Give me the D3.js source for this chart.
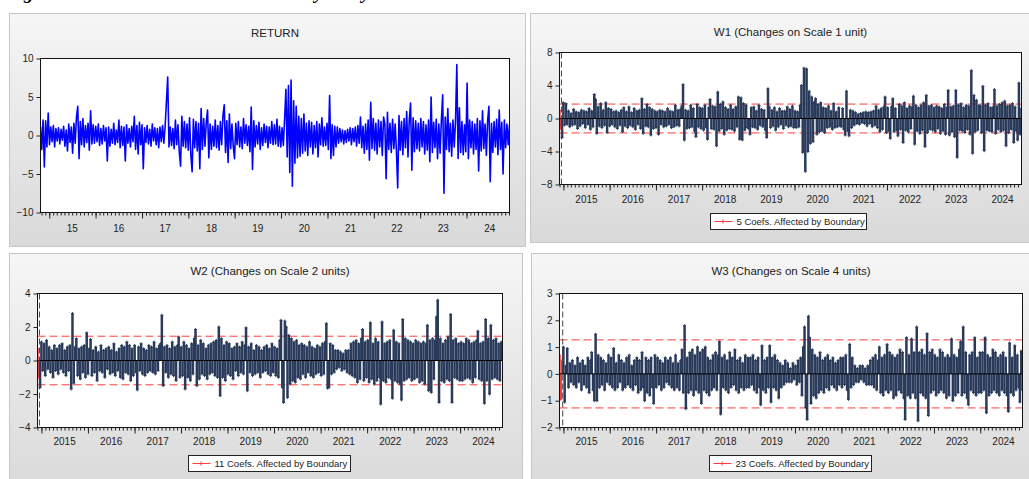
<!DOCTYPE html>
<html>
<head>
<meta charset="utf-8">
<script src="https://cdn.jsdelivr.net/npm/d3@7"></script>
<style>
body { margin: 0; background: #fff; }
svg { display: block; font-family: "Liberation Sans", Arial, sans-serif; }
</style>
</head>
<body>
<div id="chart"></div>
<script>
// Zeitachsen der Reihen (Start / Ende)
var returnStart = "2014-10-24", returnEnd = "2024-12-05";
var waveStart = "2014-12-01", waveEnd = "2024-11-29";

// Achsenbeschriftungen
var yearsShort = ["15", "16", "17", "18", "19", "20", "21", "22", "23", "24"];
var yearsLong = ["2015", "2016", "2017", "2018", "2019", "2020", "2021", "2022", "2023", "2024"];
var returnTicks = [-10, -5, 0, 5, 10];
var w1Ticks = [-8, -4, 0, 4, 8];
var w2Ticks = [-4, -2, 0, 2, 4];
var w3Ticks = [-2, -1, 0, 1, 2, 3];

// Schwellen (rote gestrichelte Linien) und Randkoeffizienten
var w1Band = [-1.75, 1.75];
var w2Band = [-1.45, 1.45];
var w3Band = [-1.27, 1.27];
var boundaryCount = [2, 2, 3];
var legendTexts = ["5 Coefs. Affected by Boundary", "11 Coefs. Affected by Boundary", "23 Coefs. Affected by Boundary"];

// RETURN, ca. 3 Werte pro Monat
var returnSeries = [
  1.2, -1.8, 2.0, -4.1, 1.9, -1.5,
  // 2015
  2.9, -1.2, 1.1, -0.8, 1.3, -1.5, 0.9, -0.7, 1.0, -1.1, 0.8, -0.6, 1.2, -1.4, 0.7, -2.0, 1.5, -0.9, 1.1, -2.3, 1.6, -1.0, 2.4, 3.8, -3.0, 1.8, -1.2, 2.2, -1.5, 1.3, -0.9, 1.6, -1.9, 3.2, -1.1, 1.4,
  // 2016
  -1.0, 1.2, -0.8, 1.5, -1.3, 0.9, -1.1, 1.3, -0.7, 1.0, -3.3, 1.1, -1.4, 0.8, -1.0, 1.6, -1.2, 0.7, -0.9, 2.0, -1.6, 1.2, -1.3, 1.1, -3.3, 1.4, -1.0, 0.9, -1.5, 1.2, -0.8, 2.5, -1.8, 1.3, -2.4, 1.7,
  // 2017
  -1.2, 1.4, -4.3, 1.0, -0.9, 1.3, -1.1, 0.8, -1.4, 1.5, -0.7, 1.0, -1.2, 0.9, -1.6, 1.1, -0.8, 1.3, -1.0, 1.2, 4.4, 7.6, -1.5, 1.1, -1.3, 0.9, -1.7, 2.0, -1.2, 1.4, -2.1, -4.0, 2.5, -1.4, 1.8, -1.6,
  // 2018
  1.5, -1.9, 2.3, -2.5, -4.7, 2.1, -1.6, 1.8, -2.0, 1.6, -4.3, 3.5, -1.8, 2.2, -1.4, 1.7, 3.3, -2.9, 1.5, -1.8, 1.2, -1.4, 2.0, -1.6, 1.3, -1.9, 1.8, -1.2, 2.6, 4.0, -2.2, 1.9, -3.5, 2.8, -1.7, 1.5,
  // 2019
  -1.4, -3.0, 1.6, -1.2, 1.8, -1.5, 1.1, -1.7, 2.2, -1.0, 1.4, -1.3, 1.2, -2.1, 3.7, -4.4, 1.9, -1.5, 1.3, -1.1, 1.7, -1.8, 1.0, -1.3, 1.5, -0.9, 1.2, -1.6, 1.1, -1.0, 1.8, -1.2, 1.4, -1.1, 2.1, -1.4,
  // 2020
  1.2, -1.5, 1.0, -1.3, 2.2, 6.0, -2.8, 6.5, -4.8, 7.2, -6.6, 4.5, -3.6, 3.8, -2.9, 2.5, -2.7, 2.2, -2.3, 2.8, -2.0, 1.6, -2.6, 1.9, -1.5, 1.7, -2.4, 1.3, -1.6, 1.8, -2.8, 1.5, -1.2, 2.3, -1.4, 1.1,
  // 2021
  -1.3, 1.6, -1.8, 5.2, -3.0, 1.4, -2.6, 1.2, -1.5, 1.1, -1.0, 0.9, -0.8, 0.7, -1.1, 0.6, -0.9, 0.8, -0.7, 1.0, -1.2, 0.9, -0.8, 1.1, -1.4, 1.3, -1.0, 2.4, -1.6, 1.2, -2.3, 1.5, -1.8, 2.0, -3.2, 4.3,
  // 2022
  -1.7, 2.2, -1.9, 1.6, -2.4, 2.0, -1.5, 1.8, -2.6, 2.4, 1.5, -5.6, 3.0, -1.8, 1.6, -2.2, 2.1, -1.7, 1.5, -2.0, -6.8, 2.6, -1.9, 1.8, -2.5, 2.2, -1.6, 3.1, -2.8, 2.0, 4.2, -4.5, 2.3, -2.1, 1.9, -1.7,
  // 2023
  1.6, -2.0, 2.2, -1.5, 1.8, -2.4, 1.4, -1.9, 2.0, -3.4, 5.0, -2.2, 1.7, -1.6, 2.1, -3.0, 1.5, -2.3, 2.0, 5.3, -7.5, 2.4, -1.8, 3.5, -2.1, 1.6, -2.7, 2.0, -1.5, 1.9, 9.2, -3.0, 3.6, -2.2, 1.8, -2.5,
  // 2024
  1.4, -2.1, 6.8, -3.0, 2.0, -1.6, 1.8, -2.4, 1.5, -1.8, 2.2, -4.6, 1.9, -2.0, 3.2, -1.7, 1.5, -2.6, 2.0, 3.8, -6.0, 1.6, -2.2, 1.8, -1.5, 2.1, -2.5, 3.3, -1.8, 1.7, -5.0, 2.0, -1.6, 1.5, -1.2, 1.4
];

// W1 (Skala 1)
var w1 = [
  1.0, -1.2, -2.3,
  1.9, -0.8, 1.8, -0.7, 0.9, -1.0, 0.6, -0.8, 1.1, -0.7, 0.8, -1.2, 0.7, -0.9, 1.0, -0.6, 0.9, -1.1, 0.8, -0.7, 1.2, -1.3, 0.9, -1.0, 2.9, 2.3, -1.8, 1.4, -0.9, 1.8, -1.1, 1.0, -0.8, 1.9, -1.7, 1.2,
  -0.9, 1.1, -0.7, 0.8, -1.0, 0.9, -1.2, 0.7, -0.8, 1.0, -1.6, 1.3, -0.9, 0.8, -1.1, 1.4, -0.8, 0.7, -1.0, 1.2, -1.3, 0.9, -0.7, 1.0, -1.2, 2.4, -1.8, 1.1, -0.9, 1.7, -1.0, 1.3, -2.0, 1.1, -1.2, 0.9,
  -1.1, 0.8, -1.9, 1.0, -0.7, 0.9, -1.0, 0.8, -0.9, 1.2, -0.7, 0.9, -1.1, 0.8, -1.0, 1.6, -0.8, 1.0, -0.9, 1.1, 1.5, 4.1, -2.6, 1.0, -1.2, 0.9, -1.1, 1.6, -1.0, 1.2, -1.5, -2.2, 1.7, -1.0, 1.3, -1.2,
  1.2, -1.4, 1.6, -1.1, -2.5, 1.3, 2.3, -1.2, 1.5, -1.3, 1.4, -3.3, 3.2, -1.5, 1.7, -1.2, 2.0, -1.9, 1.3, -1.4, 1.1, -1.2, 1.6, -1.3, 1.1, -1.5, 1.4, -1.0, 2.6, -2.5, 2.5, -2.6, 1.8, -1.4, 1.6, -1.1,
  -1.2, -1.9, 1.3, -1.0, 1.4, -1.1, 0.9, -1.3, 1.6, -0.8, 1.1, -1.0, 1.0, -1.4, -2.3, 3.6, 1.4, -1.1, 1.0, -0.9, 1.3, -1.4, 0.8, -1.0, 1.2, -0.7, 0.9, -1.2, 0.9, -0.8, 1.4, -1.0, 1.1, -0.9, 1.5, -1.1,
  0.9, -1.1, 0.8, -1.0, 1.6, 4.0, -4.1, 6.1, -6.4, 6.0, -4.0, 3.3, -3.0, 2.6, -2.8, 2.0, 2.4, -1.9, 1.7, -1.6, 1.9, -1.5, 1.3, -1.7, 1.2, -1.1, 1.5, -1.0, 0.9, -1.3, 1.8, -1.1, 0.8, -1.0, 1.3, -0.9,
  -1.0, 1.2, -1.3, -2.0, 3.3, -1.5, -2.1, 1.0, -1.1, 0.9, -0.8, 0.7, -0.6, 0.5, -0.7, 0.6, -0.5, 0.7, -0.6, 0.8, -0.9, 0.7, -0.6, 0.8, -1.0, 0.9, -0.8, 1.5, -1.1, 1.0, -1.6, 1.2, -1.3, 1.4, 2.6, -1.7,
  1.3, -1.5, -2.4, 1.4, 2.4, -1.6, 1.2, -1.4, -2.1, 1.7, -1.3, 1.5, -2.9, 1.9, -1.4, 1.2, -1.6, 1.5, -1.2, 1.4, 2.7, -3.1, 1.6, -1.5, 1.3, -1.8, 1.6, -1.4, 1.9, -3.4, 2.8, -1.7, 1.5, -1.3, 1.6, -1.4,
  1.3, -1.6, 1.5, -1.2, 1.4, -1.8, 1.2, -1.5, 1.7, -1.9, 1.3, 3.4, -2.0, 1.4, -1.6, 1.5, -2.2, 3.4, -4.7, 1.6, -1.4, 1.8, -1.5, 1.3, -1.7, 1.6, -1.3, 1.5, -1.9, 5.8, -4.2, 2.8, -1.6, 2.2, -1.4, 1.6,
  1.5, -1.7, 3.9, -3.9, 1.6, -1.4, 1.8, -1.5, 1.3, -1.6, 1.4, 3.5, -1.8, 1.5, -1.3, 1.7, -1.6, 1.9, -1.4, 2.1, -3.3, 1.5, -1.7, 1.6, -1.3, 1.8, -2.9, 1.4, -1.5, -2.6, 4.3, -1.9, 1.2
];

// W2 (Skala 2)
var w2 = [
  0.7, -1.0, -1.6,
  1.1, -0.6, 1.0, -0.9, 1.2, -0.5, 0.8, -0.7, 0.6, -1.0, 0.9, -0.6, 0.7, -0.8, 0.9, -0.5, 1.0, -0.7, 0.6, -0.9, 0.8, -0.6, 0.9, -1.7, 2.8, -1.35, 0.8, 1.3, -0.9, 0.7, -1.1, 0.8, -0.7, 0.9, -1.0, 1.65,
  -0.8, 0.7, 1.25, -0.9, 0.6, -0.7, 0.8, -1.2, 0.5, -0.6, 0.9, -0.7, 0.6, -1.0, 0.7, -0.5, 0.8, -0.8, 0.6, -0.7, 1.0, -0.9, 0.5, -0.6, 0.7, -1.0, 0.9, -1.1, 0.8, -0.7, 1.1, -0.8, 0.9, -1.2, 0.7, -0.9,
  0.9, -0.7, -1.75, 0.8, -0.6, 1.0, -0.8, 0.7, -0.9, 0.6, -0.7, 0.9, -0.6, 0.8, -0.7, 1.1, -0.8, 0.7, -0.6, 0.9, 1.0, 2.7, -1.5, 0.8, -0.7, 0.9, -1.0, 0.7, -0.8, 1.1, -0.9, 0.8, -1.2, 0.9, 1.4, -1.0,
  0.8, -0.9, 1.1, -1.7, 0.9, -1.0, 0.7, -1.2, 1.0, -0.8, 1.3, 1.85, -1.5, 0.9, -1.1, 1.2, -0.8, 1.0, -0.9, 0.7, -1.1, 0.9, -0.8, 1.0, -0.7, 1.1, -0.9, 1.2, -1.0, 2.0, -2.1, 1.3, -1.0, 0.9, -1.2, 1.1,
  -0.8, 1.0, -0.9, 0.7, -1.1, 0.8, -0.6, 1.0, -0.9, 0.8, -0.7, 1.1, -0.8, 0.9, 1.95, -1.8, 0.8, -0.7, 1.0, -0.9, 0.6, -0.8, 0.9, -0.7, 0.8, -1.0, 0.6, -0.7, 0.8, -0.6, 0.9, -0.8, 0.7, -0.9, 1.0, -0.7,
  0.8, -0.9, 0.7, -1.0, 1.2, 2.4, -1.6, -2.5, 2.35, 2.0, -2.2, 1.5, -1.4, 1.3, -1.2, 1.1, -1.3, 1.2, -1.0, 0.9, -1.1, 1.0, -0.8, 0.9, -1.0, 0.8, -0.7, 1.1, -0.9, 0.8, -1.0, 0.7, -0.8, 0.9, -0.7, 0.8,
  -0.9, 1.0, -0.8, 1.1, 2.2, -1.65, -1.6, 1.0, -0.8, 0.9, -0.7, 0.6, -0.5, 0.6, -0.4, 0.5, -0.6, 0.4, -0.5, 0.6, -0.7, 0.6, -0.8, 1.0, -0.9, 1.1, -1.0, 1.2, -1.3, 1.0, -1.1, 1.3, 1.85, -1.2, 1.1, -1.0,
  1.2, -1.3, 2.25, -1.1, 1.0, -1.4, 1.3, -1.2, 1.1, -1.0, -2.6, 2.3, -1.2, 1.0, -1.3, 1.1, -1.0, 1.2, -1.1, -2.25, 1.8, -1.2, 1.1, -1.3, 1.0, -1.4, -2.35, 2.45, -1.2, 1.3, -1.1, 1.2, -1.0, 1.1, -1.2, 1.0,
  -1.1, 1.2, -1.0, 1.1, -1.3, 1.0, -1.2, 1.1, -1.4, 1.0, 2.1, -1.8, 1.2, -1.9, 1.3, -1.1, 1.2, 2.6, 3.6, -2.5, 1.3, -1.2, 1.0, -1.3, 1.2, -1.1, 1.4, -1.2, 2.75, -2.5, 1.2, -1.0, 1.3, -1.1, 1.0, -1.2,
  1.1, -1.2, 1.0, -1.1, 1.3, -1.0, 1.2, -1.1, 1.0, -1.3, 1.1, -1.0, 1.2, 1.75, -1.1, 1.0, -1.2, 1.1, -2.55, 2.45, -1.2, 1.3, -2.0, 2.1, -1.1, 1.2, -1.0, 1.3, -1.1, 1.0, -1.2, 1.1, 0.6
];

// W3 (Skala 4)
var w3 = [
  0.7, -0.95, 0.5,
  1.0, -1.05, 0.3, 0.95, -0.5, 0.4, -0.3, 0.5, -0.4, 0.3, -0.5, 0.6, -0.3, 0.4, -0.6, 0.5, -0.4, 0.3, -0.5, 0.6, -0.7, 0.5, 0.8, -0.6, -1.0, 1.48, -1.0, 0.7, -0.5, 0.6, -0.4, 0.5, -0.6, 0.4, -0.3, 0.7,
  -0.4, 0.6, -0.5, 0.95, -0.6, 0.4, -0.5, 0.7, -0.3, 0.5, -0.6, 0.4, -0.5, 0.6, -0.4, 0.7, -0.5, 0.3, -0.6, 0.5, -0.4, 0.6, -0.7, 0.5, -0.6, 0.8, -0.5, -1.0, 0.6, -0.7, 0.5, -0.8, 0.6, -0.5, -1.1, 0.7,
  -0.5, 0.6, -0.4, 0.5, -0.6, 0.4, -0.5, 0.6, -0.3, 0.5, -0.4, 0.6, -0.5, 0.4, -0.6, 0.7, -0.5, 0.4, -0.6, 0.5, 0.9, -0.7, 1.8, -1.3, 0.6, -0.7, 0.8, -0.6, 0.9, -0.8, 0.7, -0.6, 1.0, -0.7, 0.8, -1.1,
  0.9, -0.6, 1.0, -0.7, 0.6, -0.8, 0.5, -0.6, 0.7, -0.5, 0.8, -0.6, 0.7, 1.2, -1.5, 0.6, -0.5, 0.7, -0.6, 0.5, -0.7, 0.8, -0.5, 0.6, -0.4, 0.9, -0.6, 0.5, -0.7, 0.6, -0.5, 0.4, -0.6, 0.7, -0.5, 0.6,
  -0.5, 0.6, -0.4, 0.7, -0.6, 0.5, -0.7, 0.6, -0.5, -1.15, 1.05, -0.6, 0.5, -0.7, 0.6, -0.5, 1.05, -1.05, 0.6, -0.5, 0.7, -0.6, 0.5, -0.9, 0.4, -0.5, 0.3, -0.4, 0.5, -0.3, 0.4, -0.3, 0.2, -0.3, 0.4, -0.2,
  0.3, -0.4, 0.5, -0.3, 0.6, -0.8, 1.0, 1.75, -1.25, -1.7, 2.15, 1.35, -1.1, 0.9, -0.8, 0.7, -0.9, 0.6, -0.7, 0.8, -0.6, 0.5, -0.7, 0.6, -0.5, 0.7, -0.6, 0.5, -0.4, 0.6, -0.5, 0.4, -0.6, 0.5, -0.4, 0.6,
  -0.5, 0.6, -0.4, 0.7, -0.6, -0.95, 1.1, -0.5, 0.6, -0.4, 0.3, -0.3, 0.2, -0.3, 0.3, -0.2, 0.3, -0.3, 0.2, -0.4, 0.3, -0.4, 0.5, -0.4, 0.6, -0.5, 0.7, -0.6, 0.5, 1.0, -0.7, 0.6, -0.8, 0.7, -0.6, 1.1,
  -0.7, 0.8, -0.6, 0.7, -0.9, 0.6, -0.8, 0.7, -0.6, 0.9, -0.7, 0.8, -0.9, -1.7, 1.35, -0.8, 0.7, -0.9, 1.3, -0.7, 0.8, -0.9, 1.75, -1.75, 0.8, -0.7, 0.9, -0.8, 0.7, -0.9, 1.5, -1.55, 0.8, -0.7, 0.9, -0.6,
  0.7, -0.8, 0.6, -0.7, 0.9, -0.6, 0.8, -0.7, 0.6, -0.9, 0.7, -0.8, 0.6, 1.3, -1.0, 0.7, -0.8, 0.6, -0.7, 0.9, 1.2, -0.8, 1.75, -0.7, 0.8, -0.9, -1.15, 0.7, -0.6, 0.8, -0.7, 1.35, -0.8, 0.6, -0.7, 0.8,
  -0.7, 0.8, -0.6, 1.35, -1.45, 0.7, -0.8, 0.6, -0.7, 0.9, -0.6, 0.8, -0.7, 0.6, -0.8, 0.7, -0.6, 0.8, -0.7, 0.6, -0.8, -1.4, 1.15, -0.7, 0.6, -0.8, 1.05, -0.6, 0.7, -0.5, -1.05, 0.85, -0.6
];

var width = 1029, height = 479;
var navy = "#2a3a5a", red = "#ff3c3c";
var parse = d3.timeParse("%Y-%m-%d");

var svg = d3.select("#chart").append("svg")
    .attr("width", width).attr("height", height);

var grad = svg.append("defs").append("linearGradient")
    .attr("id", "panelGrad").attr("x1", 0).attr("y1", 0).attr("x2", 0).attr("y2", 1);
grad.append("stop").attr("offset", "0%").attr("stop-color", "#f6f6f6");
grad.append("stop").attr("offset", "100%").attr("stop-color", "#d9d9d9");

// abgeschnittene Überschrift oben (wie im Original nur zum Teil sichtbar)
svg.append("text").attr("x", 6).attr("y", -1)
    .style("font-family", "'Liberation Serif', serif").style("font-weight", "bold")
    .style("font-style", "italic").style("font-size", "19px")
    .text("Figure 2: MODWT Details Estimated by Daily Return");

var panels = [
    {title: "RETURN", values: returnSeries, start: returnStart, end: returnEnd, ticks: returnTicks, years: yearsShort, kind: "line",
     box: {x: 9.5, y: 13.5, w: 516, h: 233}, plot: {x: 40.5, y: 58.5, w: 469, h: 154}, titleY: 37, labelY: 232},
    {title: "W1 (Changes on Scale 1 unit)", values: w1, start: waveStart, end: waveEnd, ticks: w1Ticks, years: yearsLong, kind: "spike",
     band: w1Band, nRed: boundaryCount[0], legend: legendTexts[0],
     box: {x: 530.5, y: 13.5, w: 510, h: 229}, plot: {x: 559.5, y: 52.5, w: 462, h: 132}, titleY: 36, labelY: 203,
     legendBox: {x: 710.5, y: 213.5, w: 156, h: 16}},
    {title: "W2 (Changes on Scale 2 units)", values: w2, start: waveStart, end: waveEnd, ticks: w2Ticks, years: yearsLong, kind: "spike",
     band: w2Band, nRed: boundaryCount[1], legend: legendTexts[1],
     box: {x: 9.5, y: 253.5, w: 513, h: 240}, plot: {x: 37.5, y: 293.5, w: 465, h: 134}, titleY: 275, labelY: 445,
     legendBox: {x: 188.5, y: 455.5, w: 162, h: 16}},
    {title: "W3 (Changes on Scale 4 units)", values: w3, start: waveStart, end: waveEnd, ticks: w3Ticks, years: yearsLong, kind: "spike",
     band: w3Band, nRed: boundaryCount[2], legend: legendTexts[2],
     box: {x: 531.5, y: 253.5, w: 510, h: 240}, plot: {x: 559.5, y: 293.5, w: 463, h: 134}, titleY: 275, labelY: 445,
     legendBox: {x: 709.5, y: 455.5, w: 162, h: 16}}
];

panels.forEach(function(p, k) {
    var gp = svg.append("g");
    gp.append("rect").attr("x", p.box.x).attr("y", p.box.y).attr("width", p.box.w).attr("height", p.box.h)
        .attr("fill", "url(#panelGrad)").attr("stroke", "#c6c6c6");

    var t0 = parse(p.start), t1 = parse(p.end);
    var x = d3.scaleTime().domain([t0, t1]).range([p.plot.x, p.plot.x + p.plot.w]);
    var y = d3.scaleLinear().domain(d3.extent(p.ticks)).range([p.plot.y + p.plot.h, p.plot.y]);

    // Datum je Punkt: gleichmässig über den Zeitraum verteilt
    var idx = d3.scaleLinear().domain([0, p.values.length - 1]).range([+t0, +t1]);
    var pts = p.values.map(function(v, i) { return {i: i, date: new Date(idx(i)), v: v}; });

    gp.append("text").attr("x", p.plot.x + p.plot.w / 2).attr("y", p.titleY)
        .attr("text-anchor", "middle").style("font-size", "11.5px").attr("fill", "#222").text(p.title);

    gp.append("rect").attr("x", p.plot.x).attr("y", p.plot.y).attr("width", p.plot.w).attr("height", p.plot.h)
        .attr("fill", "#fff");

    var clipId = "clip" + k;
    svg.append("clipPath").attr("id", clipId).append("rect")
        .attr("x", p.plot.x).attr("y", p.plot.y).attr("width", p.plot.w).attr("height", p.plot.h);
    var g = gp.append("g").attr("clip-path", "url(#" + clipId + ")");

    if (p.kind === "line") {
        var line = d3.line().x(function(d) { return x(d.date); }).y(function(d) { return y(d.v); });
        g.append("path").datum(pts).attr("d", line).attr("fill", "none")
            .attr("stroke", "#0000ff").attr("stroke-width", 1.6).attr("stroke-linejoin", "round");
    } else {
        // rote Schwellenlinien
        g.selectAll("line.band").data(p.band).enter().append("line")
            .attr("x1", p.plot.x).attr("x2", p.plot.x + p.plot.w)
            .attr("y1", function(d) { return y(d); }).attr("y2", function(d) { return y(d); })
            .attr("stroke", red).attr("stroke-width", 1).attr("stroke-dasharray", "8,4");

        g.selectAll("line.spike").data(pts).enter().append("line")
            .attr("x1", function(d) { return x(d.date); }).attr("x2", function(d) { return x(d.date); })
            .attr("y1", y(0)).attr("y2", function(d) { return y(d.v); })
            .attr("stroke", function(d) { return d.i < p.nRed ? red : navy; })
            .attr("stroke-width", 2.5);

        g.selectAll("path.mark").data(pts).enter().append("path")
            .attr("d", function(d) {
                var px = x(d.date), py = y(d.v);
                return "M" + (px - 1.5) + "," + py + "h3M" + px + "," + (py - 1.5) + "v3";
            })
            .attr("stroke", function(d) { return d.i < p.nRed ? red : navy; })
            .attr("stroke-width", 1).attr("fill", "none");

        g.append("line").attr("x1", p.plot.x).attr("x2", p.plot.x + p.plot.w)
            .attr("y1", y(0)).attr("y2", y(0)).attr("stroke", "#000").attr("stroke-width", 1);

        // Grenze der Randkoeffizienten
        var xb = (x(pts[p.nRed - 1].date) + x(pts[p.nRed].date)) / 2;
        g.append("line").attr("x1", xb).attr("x2", xb).attr("y1", p.plot.y).attr("y2", p.plot.y + p.plot.h)
            .attr("stroke", "#444").attr("stroke-width", 1).attr("stroke-dasharray", "6,3");
    }

    gp.append("rect").attr("x", p.plot.x).attr("y", p.plot.y).attr("width", p.plot.w).attr("height", p.plot.h)
        .attr("fill", "none").attr("stroke", "#111").attr("stroke-width", 1);

    // y-Achse
    var yAxis = gp.append("g").attr("transform", "translate(" + p.plot.x + ",0)")
        .call(d3.axisLeft(y).tickValues(p.ticks).tickSize(4).tickPadding(3).tickFormat(d3.format("d")));
    yAxis.select(".domain").remove();
    yAxis.selectAll("text").style("font-size", "10px").attr("fill", "#222").style("font-family", "'Liberation Sans', Arial, sans-serif");
    yAxis.selectAll("line").attr("stroke", "#222");

    // x-Achse: Monats- und Jahresstriche
    var yb = p.plot.y + p.plot.h;
    var months = d3.timeMonth.range(d3.timeMonth.ceil(t0), t1);
    var minor = gp.append("g").attr("transform", "translate(0," + yb + ")")
        .call(d3.axisBottom(x).tickValues(months).tickSize(3).tickFormat(""));
    minor.select(".domain").remove();
    minor.selectAll("line").attr("stroke", "#222");
    var yearsD = d3.timeYear.range(d3.timeYear.ceil(t0), t1);
    var major = gp.append("g").attr("transform", "translate(0," + yb + ")")
        .call(d3.axisBottom(x).tickValues(yearsD).tickSize(6).tickFormat(""));
    major.select(".domain").remove();
    major.selectAll("line").attr("stroke", "#222");

    var mids = p.years.map(function(s, i) { return new Date(2015 + i, 6, 2); });
    gp.selectAll("text.yr").data(mids).enter().append("text")
        .attr("x", function(d) { return x(d); }).attr("y", p.labelY)
        .attr("text-anchor", "middle").style("font-size", "10px").attr("fill", "#222")
        .text(function(d, i) { return p.years[i]; });
});

// Legenden zuletzt zeichnen
panels.filter(function(p) { return p.legend; }).forEach(function(p) {
    var lb = p.legendBox;
    var gl = svg.append("g").attr("class", "legend");
    gl.append("rect").attr("x", lb.x).attr("y", lb.y).attr("width", lb.w).attr("height", lb.h)
        .attr("fill", "#fff").attr("stroke", "#222");
    var ly = lb.y + lb.h / 2;
    gl.append("rect").attr("x", lb.x + 4).attr("y", ly - 0.5).attr("width", 18).attr("height", 1)
        .attr("fill", red);
    gl.append("rect").attr("x", lb.x + 12).attr("y", ly - 2).attr("width", 1).attr("height", 4)
        .attr("fill", red);
    gl.append("text").attr("x", lb.x + 26).attr("y", ly + 3.5)
        .style("font-size", "9.5px").attr("fill", "#222").text(p.legend);
});
</script>
</body>
</html>
